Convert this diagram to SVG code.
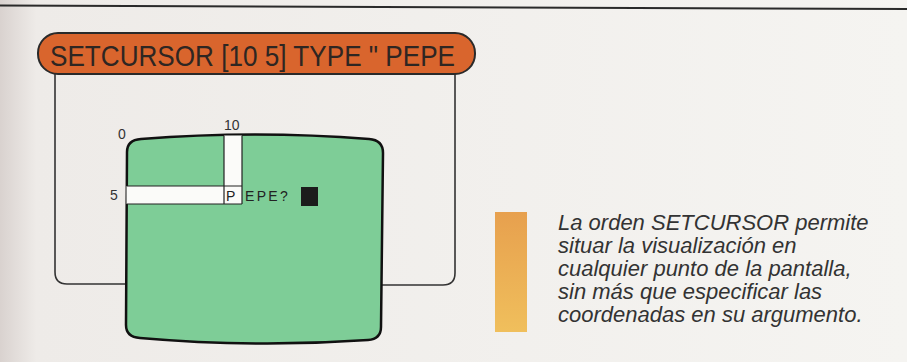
<svg xmlns="http://www.w3.org/2000/svg" width="907" height="362" viewBox="0 0 907 362">
<defs>
<linearGradient id="page" x1="0" y1="0" x2="1" y2="0">
<stop offset="0" stop-color="#d9d2cf"/>
<stop offset="0.04" stop-color="#eeebe8"/>
<stop offset="1" stop-color="#f5f4f1"/>
</linearGradient>
<linearGradient id="bar" x1="0" y1="0" x2="0" y2="1">
<stop offset="0" stop-color="#e7a04e"/>
<stop offset="1" stop-color="#f0bf5c"/>
</linearGradient>
<style>
.ln{fill:none;stroke:#222;stroke-width:1.2}
.lbl{font-family:"Liberation Sans",Arial,sans-serif;font-size:14px;fill:#333}
.body{font-family:"Liberation Sans",Arial,sans-serif;font-style:italic;font-size:22px;fill:#333}
</style>
</defs>
<rect x="0" y="0" width="907" height="362" fill="url(#page)"/>
<line x1="0" y1="5.5" x2="907" y2="9" stroke="#2a2a2a" stroke-width="2"/>
<g id="frame">
<path d="M55,73 V272 Q55,284 67,284 H126 M455,73 V273 Q455,285 443,285 H382" fill="none" stroke="#333" stroke-width="1.6"/>
</g>
<g id="title">
<rect x="38" y="33" width="437" height="41" rx="20" ry="20" fill="#d9652d" stroke="#2a2a2a" stroke-width="2"/>
<text x="50" y="66" font-family="'Liberation Sans',Arial,sans-serif" font-size="30" fill="#2e2622" textLength="405" lengthAdjust="spacingAndGlyphs">SETCURSOR [10 5] TYPE " PEPE</text>
</g>
<g id="screen">
<path d="M127,152 Q127,140 141,139 Q255,130 369,139 Q383,140 383,153 L381,327 Q381,339 368,340 Q255,348 140,338 Q126,337 126,325 Z" fill="#7ecd97" stroke="#111" stroke-width="2.5"/>
<path d="M224,135.5 H242 V186 H242 V204 H126.5 V186 H224 Z" fill="#fbfbf9"/>
<path class="ln" d="M224,135.5 V204 M242,135.5 V204 M126.5,186 H242 M126.5,204 H242"/>
<text class="lbl" x="118" y="139">0</text>
<text class="lbl" x="224" y="130">10</text>
<text class="lbl" x="110" y="200">5</text>
<text x="226" y="201" font-family="'Liberation Sans',Arial,sans-serif" font-size="14" fill="#222">P</text>
<text x="245" y="201" font-family="'Liberation Sans',Arial,sans-serif" font-size="14" fill="#222" letter-spacing="2.3">EPE?</text>
<rect x="301" y="187" width="17" height="19" fill="#1c1c1c"/>
</g>
<g id="caption">
<rect x="495" y="212" width="32" height="120" fill="url(#bar)"/>
<text class="body" x="558" y="230">La orden SETCURSOR permite</text>
<text class="body" x="558" y="253">situar la visualización en</text>
<text class="body" x="558" y="276">cualquier punto de la pantalla,</text>
<text class="body" x="558" y="299">sin más que especificar las</text>
<text class="body" x="558" y="322">coordenadas en su argumento.</text>
</g>
</svg>
